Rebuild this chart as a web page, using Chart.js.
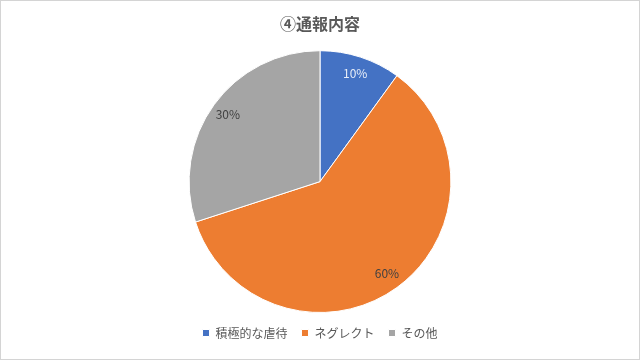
<!DOCTYPE html>
<html>
<head>
<meta charset="utf-8">
<script src="https://cdn.jsdelivr.net/npm/chart.js@4/dist/chart.umd.min.js"></script>
<style>
  html, body { margin: 0; padding: 0; background: #fff; }
  #wrap { position: relative; width: 638px; height: 358px; border: 1px solid #d4d4d4; }
</style>
</head>
<body>
<div id="wrap"><canvas id="pie"></canvas></div>
<script>
const TITLE = '④通報内容';
const labels = ['積極的な虐待', 'ネグレクト', 'その他'];
const values = [10, 60, 30];
const sliceColors = ['#4472C4', '#ED7D31', '#A5A5A5'];
const labelColors = ['#e8eef8', '#404040', '#404040'];

const FONT = '"Noto Sans CJK JP", "Noto Sans", sans-serif';

// draws the percent text inside each slice
const sliceLabels = {
  id: 'sliceLabels',
  afterDatasetsDraw(chart) {
    const ctx = chart.ctx;
    const meta = chart.getDatasetMeta(0);
    const total = values.reduce((a, b) => a + b, 0);
    meta.data.forEach((arc, i) => {
      const mid = (arc.startAngle + arc.endAngle) / 2;
      const r = arc.outerRadius * 0.87;
      const x = arc.x + Math.cos(mid) * r;
      const y = arc.y + Math.sin(mid) * r;
      ctx.save();
      ctx.font = '12px ' + FONT;
      ctx.fillStyle = labelColors[i];
      ctx.textAlign = 'center';
      ctx.textBaseline = 'middle';
      ctx.fillText(Math.round(values[i] / total * 100) + '%', x, y);
      ctx.restore();
    });
  }
};

new Chart(document.getElementById('pie'), {
  type: 'pie',
  data: {
    labels: labels,
    datasets: [{
      data: values,
      backgroundColor: sliceColors,
      borderColor: '#ffffff',
      borderWidth: 1
    }]
  },
  options: {
    responsive: true,
    maintainAspectRatio: false,
    animation: false,
    layout: { padding: { top: 0, bottom: 10 } },
    plugins: {
      title: {
        display: true,
        text: TITLE,
        color: '#595959',
        font: { family: FONT, size: 16, weight: 'bold' },
        padding: { top: 13, bottom: 17 }
      },
      legend: {
        position: 'bottom',
        labels: {
          color: '#595959',
          font: { family: FONT, size: 12 },
          boxWidth: 7,
          boxHeight: 7,
          padding: 14
        }
      },
      tooltip: { enabled: false }
    }
  },
  plugins: [sliceLabels]
});
</script>
</body>
</html>
